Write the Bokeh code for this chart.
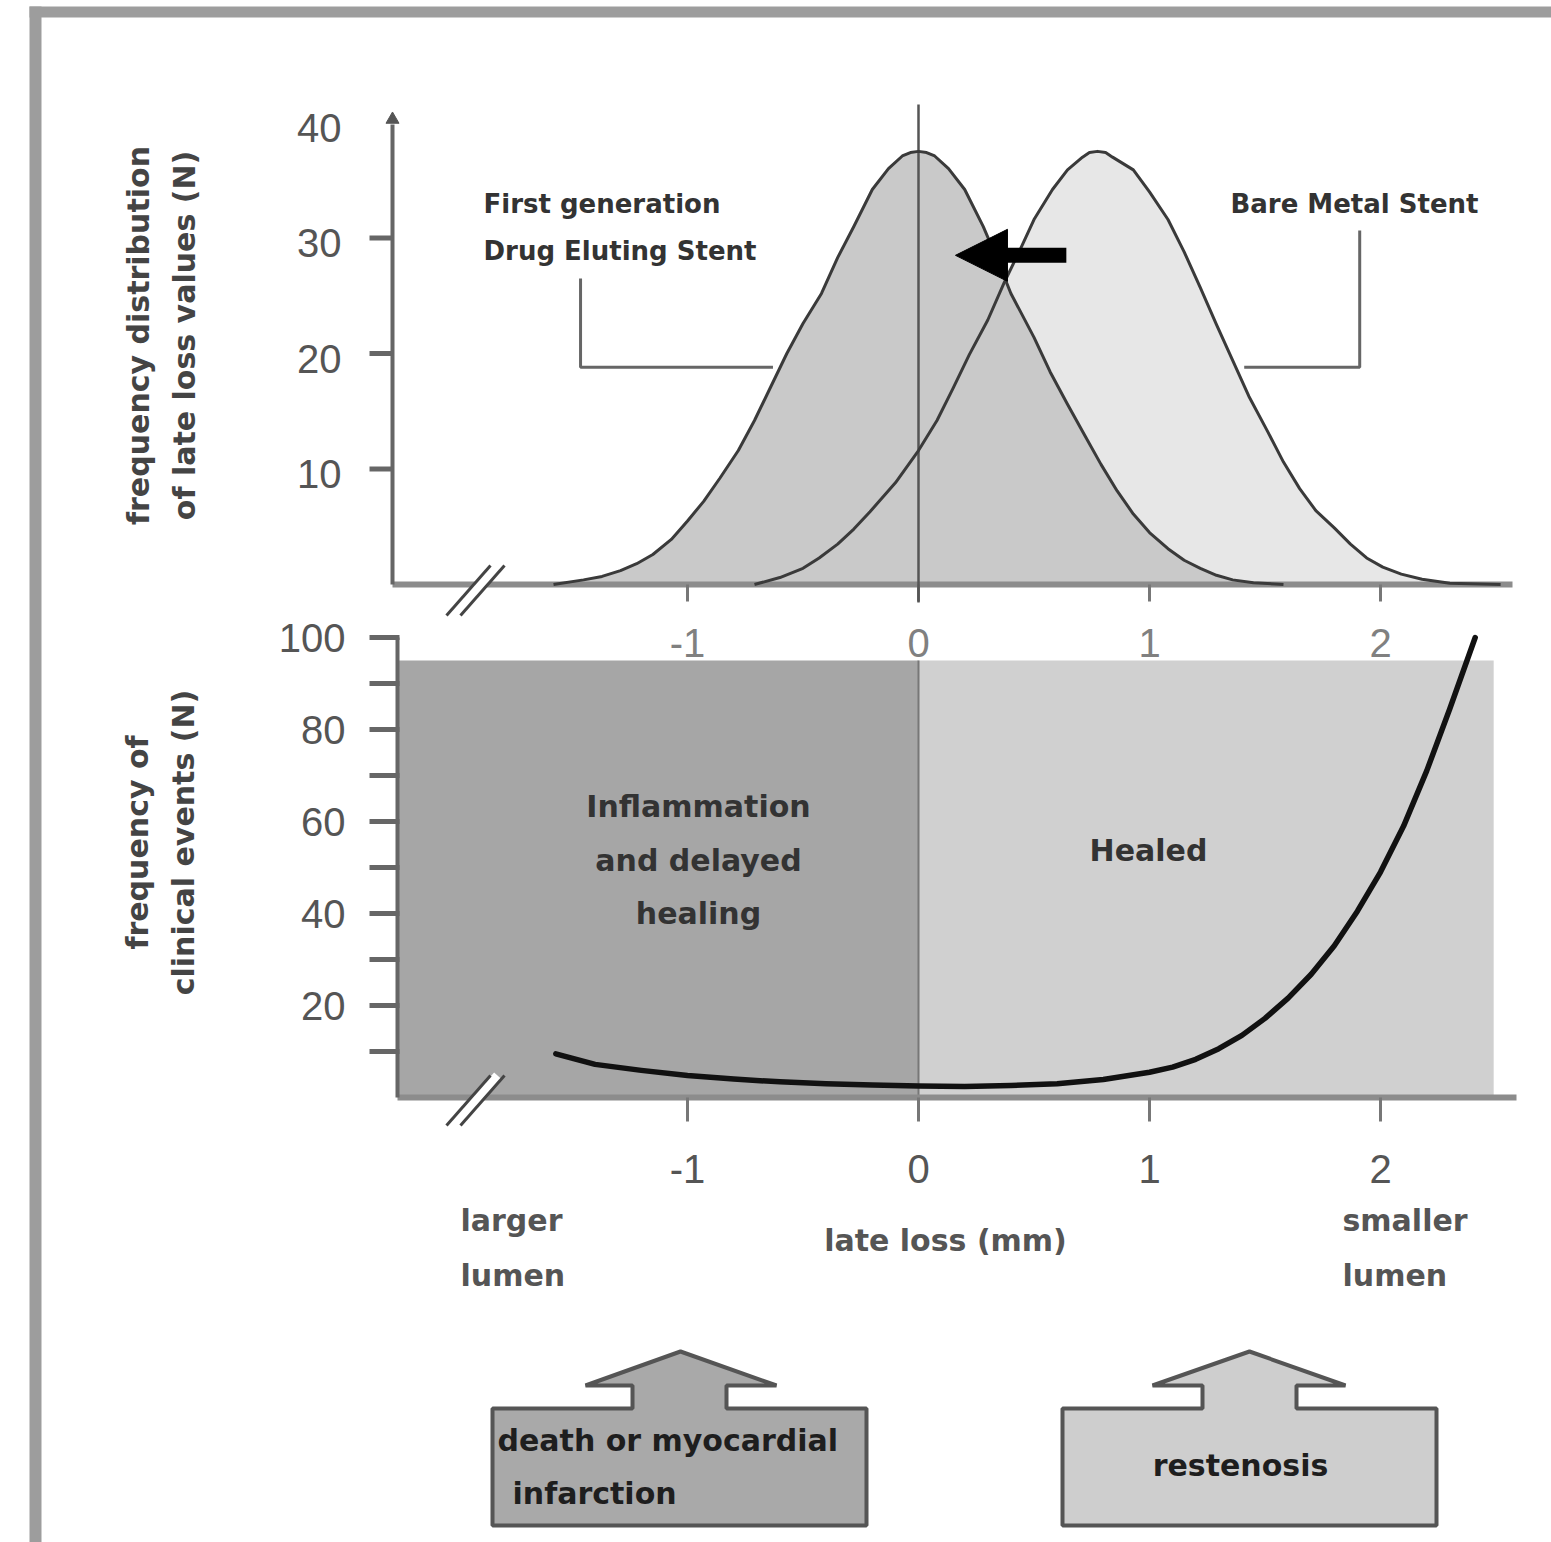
import math
from bokeh.plotting import figure
from bokeh.models import Range1d, Arrow, NormalHead
from bokeh.core.properties import value
from bokeh.embed import file_html
from bokeh.resources import INLINE

# ---------------- data ----------------
# upper panel: frequency distribution of late loss values (N)
des_x = [-1.58, -1.45, -1.37, -1.29, -1.22, -1.15, -1.07, -1.00, -0.93, -0.86, -0.78, -0.71, -0.64,
         -0.57, -0.50, -0.42, -0.35, -0.28, -0.20, -0.13, -0.07, -0.035, 0.00, 0.035, 0.07, 0.13,
         0.20, 0.28, 0.34, 0.40, 0.50, 0.57, 0.645, 0.72, 0.79, 0.86, 0.93, 1.00, 1.08, 1.15,
         1.22, 1.29, 1.36, 1.45, 1.58]
des_y = [0.0, 0.4, 0.7, 1.2, 1.8, 2.6, 3.9, 5.5, 7.2, 9.2, 11.6, 14.2, 17.1,
         20.0, 22.6, 25.2, 28.3, 31.0, 34.2, 36.0, 37.1, 37.4, 37.5, 37.4, 37.1, 36.0,
         34.2, 31.0, 28.2, 25.2, 21.4, 18.4, 15.6, 12.9, 10.4, 8.1, 6.1, 4.5, 3.1, 2.1,
         1.4, 0.8, 0.4, 0.15, 0.0]
bms_x = [-0.71, -0.60, -0.50, -0.43, -0.35, -0.28, -0.21, -0.10, 0.00, 0.08, 0.15, 0.22, 0.30, 0.37,
         0.44, 0.50, 0.58, 0.645, 0.71, 0.74, 0.775, 0.81, 0.84, 0.93, 1.00, 1.08, 1.15, 1.22,
         1.29, 1.36, 1.43, 1.51, 1.58, 1.65, 1.72, 1.80, 1.87, 1.94, 2.01, 2.09, 2.18, 2.30, 2.52]
bms_y = [0.0, 0.6, 1.4, 2.3, 3.5, 4.8, 6.3, 8.8, 11.6, 14.2, 17.0, 19.9, 22.9, 26.1,
         29.0, 31.6, 34.2, 35.9, 37.0, 37.4, 37.5, 37.4, 37.0, 35.9, 34.0, 31.6, 28.8, 25.7,
         22.5, 19.4, 16.3, 13.3, 10.6, 8.3, 6.4, 4.9, 3.5, 2.3, 1.5, 0.9, 0.45, 0.1, 0.0]

# lower panel: frequency of clinical events (N)
events_x = [-1.57, -1.4, -1.2, -1.0, -0.8, -0.6, -0.4, -0.2, 0.0, 0.2, 0.4, 0.6, 0.8, 1.0,
            1.1, 1.2, 1.3, 1.4, 1.5, 1.6, 1.7, 1.8, 1.9, 2.0, 2.1, 2.2, 2.3, 2.41]
events_y = [9.5, 7.2, 5.9, 4.8, 4.0, 3.4, 3.0, 2.7, 2.5, 2.4, 2.6, 3.0, 3.9, 5.5,
            6.6, 8.3, 10.6, 13.5, 17.2, 21.6, 26.8, 33.0, 40.5, 49.0, 59.0, 71.0, 84.5, 100.0]

# axes
top_ytick_vals = [10, 20, 30]
top_ylabel_vals = [10, 20, 30, 40]
top_ylabels = ["10", "20", "30", "40"]
bot_ytick_vals = [10, 20, 30, 40, 50, 60, 70, 80, 90, 100]
bot_ylabel_vals = [20, 40, 60, 80, 100]
bot_ylabels = ["20", "40", "60", "80", "100"]
xtick_vals = [-1, 0, 1, 2]
xtick_labels = ["-1", "0", "1", "2"]

# shaded zones of the lower panel
zone_left = [-2.255, 0.0]
zone_right = [0.0, 2.49]
zone_top = [95, 95]
zone_colors = ["#a6a6a6", "#d0d0d0"]

# ---------------- layout constants ----------------
W, H = 1551, 1542
X0, SX = 918, 231           # px of late loss 0, px per mm
TOP_BASE, TOP_S = 584, 11.55
BOT_BASE, BOT_S = 1097, 4.6


def dx(px):
    return (px - X0) / SX


def tv(py):
    return (TOP_BASE - py) / TOP_S


def bv(py):
    return (BOT_BASE - py) / BOT_S


FONT = value("DejaVu Sans")
TFONT = value("Liberation Sans")
TSIZE = "40px"

p = figure(width=W, height=H, title=None, output_backend="svg", toolbar_location=None,
           x_range=Range1d(dx(0), dx(W)), y_range=Range1d(H, 0),
           x_axis_type=None, y_axis_type=None, min_border=0)
p.min_border_left = p.min_border_right = p.min_border_top = p.min_border_bottom = 0
p.outline_line_color = None
p.background_fill_color = "white"
p.border_fill_color = "white"
p.extra_y_ranges = {
    "top": Range1d(start=tv(H), end=tv(0)),
    "bot": Range1d(start=bv(H), end=bv(0)),
}
p.extra_x_ranges = {"px": Range1d(0, W)}

# picture frame
p.quad(left=[29, 29], right=[41, W], top=[6, 6], bottom=[H, 17],
       x_range_name="px", fill_color="#9d9d9d", line_color=None)

# ================= upper panel =================
T = dict(y_range_name="top")
p.varea(x=bms_x, y1=0, y2=bms_y, fill_color="#e7e7e7", **T)
p.varea(x=des_x, y1=0, y2=des_y, fill_color="#c9c9c9", **T)

# axis base line and y axis
p.segment(x0=[dx(392)], y0=[0], x1=[dx(1512)], y1=[0], line_width=6, line_color="#8c8c8c", **T)
p.segment(x0=[dx(392)], y0=[0], x1=[dx(392)], y1=[tv(124)], line_width=4, line_color="#666666", **T)
p.scatter(x=[dx(392)], y=[tv(119)], marker="triangle", size=13, fill_color="#555555",
          line_color="#555555", **T)
p.segment(x0=[dx(369)] * len(top_ytick_vals), y0=top_ytick_vals,
          x1=[dx(392)] * len(top_ytick_vals), y1=top_ytick_vals,
          line_width=5, line_color="#666666", **T)
p.text(x=[dx(341)] * len(top_ylabel_vals), y=top_ylabel_vals, text=top_ylabels,
       text_font=TFONT, text_font_size=TSIZE, text_color="#555555",
       text_align="right", text_baseline="middle", y_offset=5, **T)
p.segment(x0=xtick_vals, y0=[0] * 4, x1=xtick_vals, y1=[tv(601)] * 4,
          line_width=3, line_color="#777777", **T)
p.text(x=xtick_vals, y=[tv(642)] * 4, text=xtick_labels, text_font=TFONT,
       text_font_size=TSIZE, text_color="#808080", text_align="center",
       text_baseline="middle", **T)

# zero line
p.segment(x0=[0], y0=[tv(602)], x1=[0], y1=[tv(104)], line_width=2.5, line_color="#555555", **T)

# curves
p.line(bms_x, bms_y, line_width=3, line_color="#3a3a3a", line_join="round", **T)
p.line(des_x, des_y, line_width=3, line_color="#3a3a3a", line_join="round", **T)

# axis break
p.segment(x0=[dx(453)], y0=[tv(614)], x1=[dx(497)], y1=[tv(565)], line_width=9,
          line_color="white", **T)
p.segment(x0=[dx(446), dx(460)], y0=[tv(615), tv(615)], x1=[dx(490), dx(504)],
          y1=[tv(565), tv(565)], line_width=3, line_color="#444444", **T)

# labels and leaders
p.text(x=[dx(483), dx(483)], y=[tv(203), tv(250)],
       text=["First generation", "Drug Eluting Stent"], text_font=FONT,
       text_font_style="bold", text_font_size="26px", text_color="#333333",
       text_align="left", text_baseline="middle", **T)
p.text(x=[dx(1478)], y=[tv(203)], text=["Bare Metal Stent"], text_font=FONT,
       text_font_style="bold", text_font_size="26px", text_color="#333333",
       text_align="right", text_baseline="middle", **T)
p.line(x=[-1.463, -1.463, -0.63], y=[tv(278), 18.8, 18.8], line_width=3,
       line_color="#666666", **T)
p.line(x=[1.91, 1.91, 1.41], y=[tv(230), 18.8, 18.8], line_width=3,
       line_color="#666666", **T)

# shift arrow (bare metal -> drug eluting)
p.segment(x0=[0.64], y0=[28.5], x1=[0.33], y1=[28.5], line_width=15, line_color="black", **T)
p.add_layout(Arrow(end=NormalHead(size=52, fill_color="black", line_color="black"),
                   x_start=0.30, y_start=28.5, x_end=0.16, y_end=28.5,
                   line_width=2, line_color="black", y_range_name="top"))

# ================= lower panel =================
B = dict(y_range_name="bot")
p.quad(left=zone_left, right=zone_right, bottom=0, top=zone_top, fill_color=zone_colors,
       line_color=None, **B)
p.segment(x0=[0], y0=[0], x1=[0], y1=[95], line_width=2, line_color="#777777", **B)
p.segment(x0=[dx(397)], y0=[0], x1=[dx(1516)], y1=[0], line_width=6, line_color="#8c8c8c", **B)
p.segment(x0=[dx(397)], y0=[0], x1=[dx(397)], y1=[100], line_width=4, line_color="#666666", **B)
p.segment(x0=[dx(369)] * len(bot_ytick_vals), y0=bot_ytick_vals,
          x1=[dx(399)] * len(bot_ytick_vals), y1=bot_ytick_vals,
          line_width=5, line_color="#666666", **B)
p.text(x=[dx(345)] * len(bot_ylabel_vals), y=bot_ylabel_vals, text=bot_ylabels,
       text_font=TFONT, text_font_size=TSIZE, text_color="#555555",
       text_align="right", text_baseline="middle", **B)
p.segment(x0=xtick_vals, y0=[0] * 4, x1=xtick_vals, y1=[bv(1121)] * 4,
          line_width=3, line_color="#777777", **B)
p.text(x=xtick_vals, y=[bv(1168)] * 4, text=xtick_labels, text_font=TFONT,
       text_font_size=TSIZE, text_color="#555555", text_align="center",
       text_baseline="middle", **B)

# axis break
p.segment(x0=[dx(453)], y0=[bv(1124)], x1=[dx(497)], y1=[bv(1075)], line_width=9,
          line_color="white", **B)
p.segment(x0=[dx(446), dx(460)], y0=[bv(1125), bv(1125)], x1=[dx(490), dx(504)],
          y1=[bv(1075), bv(1075)], line_width=3, line_color="#444444", **B)

# events curve
p.line(events_x, events_y, line_width=5.5, line_color="#111111", line_cap="round",
       line_join="round", **B)

# zone labels
p.text(x=[dx(698)] * 3 + [dx(1148)], y=[bv(806), bv(860), bv(913), bv(850)],
       text=["Inflammation", "and delayed", "healing", "Healed"], text_font=FONT,
       text_font_style="bold", text_font_size="30px", text_color="#333333",
       text_align="center", text_baseline="middle", **B)

# x axis title and ends
p.text(x=[dx(945)], y=[bv(1240)], text=["late loss (mm)"], text_font=FONT,
       text_font_style="bold", text_font_size="30px", text_color="#555555",
       text_align="center", text_baseline="middle", **B)
p.text(x=[dx(460), dx(460), dx(1342), dx(1342)], y=[bv(1220), bv(1275), bv(1220), bv(1275)],
       text=["larger", "lumen", "smaller", "lumen"], text_font=FONT,
       text_font_style="bold", text_font_size="30px", text_color="#555555",
       text_align="left", text_baseline="middle", **B)

# ================= y axis titles (rotated) =================
p.text(x=[138, 184, 137, 183], y=[335, 335, 842, 842],
       text=["frequency distribution", "of late loss values (N)",
             "frequency of", "clinical events (N)"],
       angle=math.pi / 2, text_font=FONT, text_font_style="bold",
       text_font_size="30px", text_color="#444444", text_align="center",
       text_baseline="middle", x_range_name="px")

# ================= outcome boxes =================
def box_arrow(l, r, sl, sr, hl, hr, apex):
    xs = [l, l, sl, sl, hl, apex, hr, sr, sr, r, r]
    ys = [1525, 1408, 1408, 1385, 1385, 1351, 1385, 1385, 1408, 1408, 1525]
    return xs, ys


lx, ly = box_arrow(492, 866, 632, 726, 585, 776, 680)
rx, ry = box_arrow(1062, 1436, 1202, 1296, 1152, 1345, 1249)
p.patches(xs=[lx, rx], ys=[ly, ry], fill_color=["#a9a9a9", "#cecece"],
          line_color="#555555", line_width=4, x_range_name="px")
p.text(x=[497, 512], y=[1440, 1493], text=["death or myocardial", "infarction"],
       text_font=FONT, text_font_style="bold", text_font_size="30px",
       text_color="#1e1e1e", text_align="left", text_baseline="middle", x_range_name="px")
p.text(x=[1240], y=[1465], text=["restenosis"], text_font=FONT, text_font_style="bold",
       text_font_size="30px", text_color="#1e1e1e", text_align="center",
       text_baseline="middle", x_range_name="px")

open("out.html", "w").write(file_html(p, INLINE))
